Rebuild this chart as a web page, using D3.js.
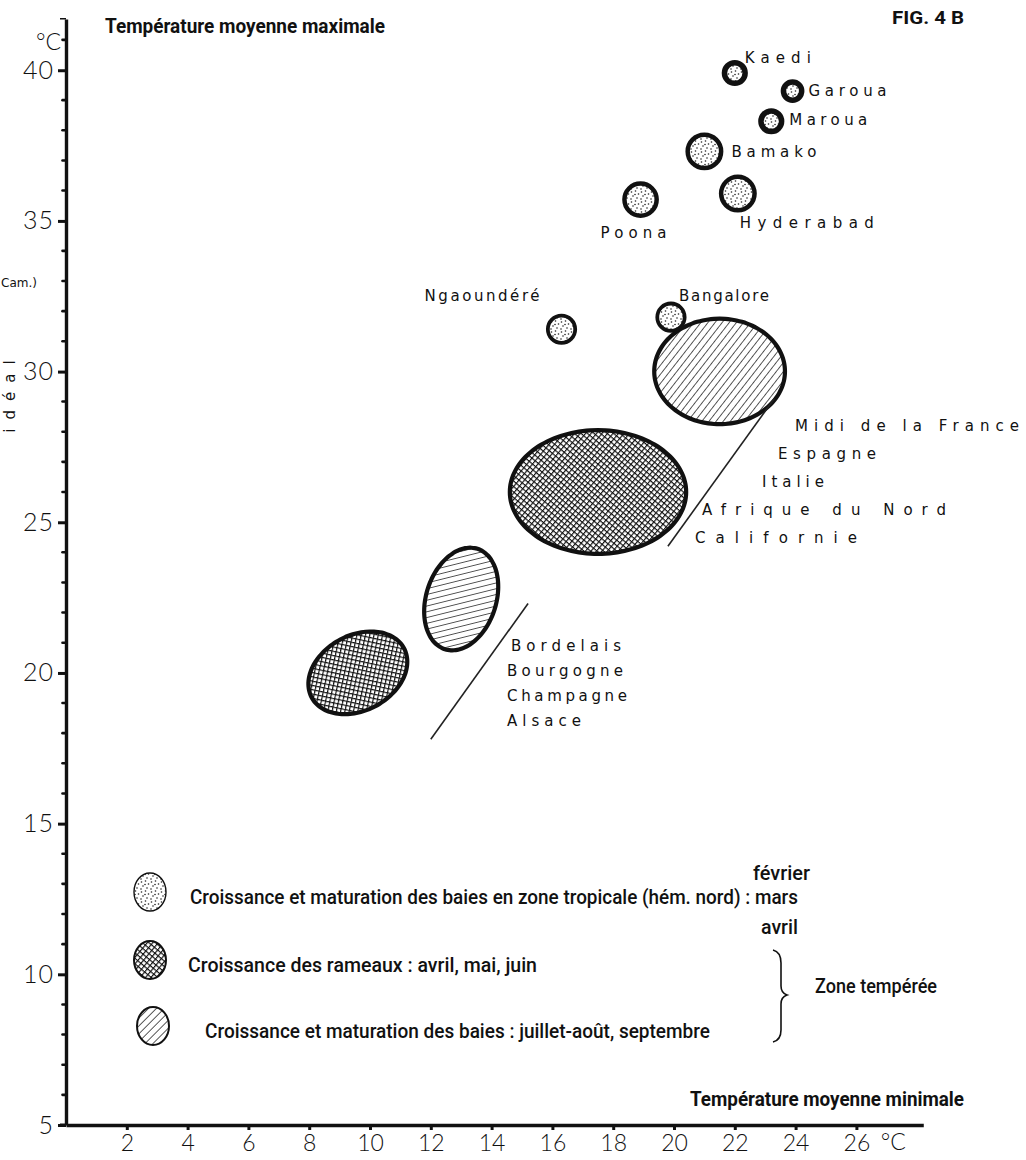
<!DOCTYPE html>
<html>
<head>
<meta charset="utf-8">
<script src="https://cdn.jsdelivr.net/npm/d3@7/dist/d3.min.js"></script>
<style>
  body { margin: 0; background: #fff; }
  svg { display: block; }
  .cond { font-family: "Roboto", "Liberation Sans", sans-serif; fill: #111; }
  .hand { font-family: "DejaVu Sans", sans-serif; fill: #111; }
  .num { font-family: "Lato", "Open Sans", sans-serif; font-weight: 300; fill: #111; }
</style>
</head>
<body>
<div id="chart"></div>
<script>
// ---- data (°C) ----
const xTicks = [2, 4, 6, 8, 10, 12, 14, 16, 18, 20, 22, 24, 26]
const yTicks = [5, 10, 15, 20, 25, 30, 35, 40]

// tropical stations: mean min / mean max, and the half-spread drawn as circle radius
const stations = ["Kaedi", "Garoua", "Maroua", "Bamako", "Hyderabad", "Poona", "Ngaoundéré", "Bangalore"]
const stationTmin = [22.0, 23.9, 23.2, 21.0, 22.1, 18.9, 16.3, 19.9]
const stationTmax = [39.9, 39.3, 38.3, 37.3, 35.9, 35.7, 31.4, 31.8]
const stationSpread = [0.34, 0.30, 0.34, 0.55, 0.55, 0.53, 0.45, 0.45]

// temperate zones: centre and half-ranges of the ellipses
const zones = ["midi_baies", "midi_rameaux", "nord_baies", "nord_rameaux"]
const zoneKind = ["baies", "rameaux", "baies", "rameaux"]
const zoneTmin = [21.5, 17.5, 13.0, 9.6]
const zoneTmax = [30.0, 26.0, 22.45, 20.0]
const zoneHalfMin = [2.15, 2.9, 1.15, 1.72]
const zoneHalfMax = [1.75, 2.05, 1.75, 1.25]

const regionsMidi = ["Midi de la France", "Espagne", "Italie", "Afrique du Nord", "Californie"]
const regionsNord = ["Bordelais", "Bourgogne", "Champagne", "Alsace"]
const midiLine = [[23.3, 29.1], [19.8, 24.2]]
const nordLine = [[15.2, 22.3], [12.0, 17.8]]

const legendTexts = [
    "Croissance et maturation des baies en zone tropicale (hém. nord) : mars",
    "Croissance des rameaux :  avril, mai, juin",
    "Croissance et maturation des baies :  juillet-août, septembre"
]

// ---- layout ----
const W = 1026, H = 1160
const svg = d3.select("#chart").append("svg")
    .attr("width", W).attr("height", H)

const x = d3.scaleLinear().domain([0, 28.2]).range([66, 66 + 28.2 * 30.4])
const y = d3.scaleLinear().domain([5, 40]).range([1125, 70])

const defs = svg.append("defs")

// stipple
let st = defs.append("pattern").attr("id", "stipple")
    .attr("width", 10).attr("height", 10).attr("patternUnits", "userSpaceOnUse")
st.append("rect").attr("width", 10).attr("height", 10).attr("fill", "#fff")
;[[1.5, 2], [5.5, 1], [8.5, 4], [3, 6], [7, 8], [1, 9], [5, 4.5]].forEach(p => {
    st.append("circle").attr("cx", p[0]).attr("cy", p[1]).attr("r", 0.8).attr("fill", "#222")
})

// cross hatch
let ch = defs.append("pattern").attr("id", "cross")
    .attr("width", 4.2).attr("height", 4.2).attr("patternUnits", "userSpaceOnUse")
    .attr("patternTransform", "rotate(40)")
ch.append("rect").attr("width", 4.2).attr("height", 4.2).attr("fill", "#fff")
ch.append("line").attr("x1", 0).attr("y1", 0).attr("x2", 4.2).attr("y2", 0).attr("stroke", "#111").attr("stroke-width", 2.3)
ch.append("line").attr("x1", 0).attr("y1", 0).attr("x2", 0).attr("y2", 4.2).attr("stroke", "#111").attr("stroke-width", 2.3)

// diagonal hatch, one angle per figure
function hatch(id, angle) {
    let p = defs.append("pattern").attr("id", id)
        .attr("width", 5.6).attr("height", 5.6).attr("patternUnits", "userSpaceOnUse")
        .attr("patternTransform", "rotate(" + angle + ")")
    p.append("rect").attr("width", 5.6).attr("height", 5.6).attr("fill", "#fff")
    p.append("line").attr("x1", 0).attr("y1", 0).attr("x2", 0).attr("y2", 5.6)
        .attr("stroke", "#111").attr("stroke-width", 1.4)
}
hatch("hatch_midi", 38)
hatch("hatch_nord", 58)
hatch("hatch_leg", 45)

// ---- axes ----
const yAxis = svg.append("g")
    .attr("transform", "translate(" + x(0) + ",0)")
    .call(d3.axisLeft(y.copy().domain([5, 41.7]).range([1125, 19]))
        .tickValues(yTicks)
        .tickSizeInner(8)
        .tickSizeOuter(0)
        .tickPadding(4)
        .tickFormat(d => d))
yAxis.select(".domain").attr("stroke", "#111").attr("stroke-width", 3.4)
yAxis.selectAll(".tick line").attr("stroke", "#111").attr("stroke-width", 3)
yAxis.selectAll(".tick text").attr("class", "num").attr("font-size", 25)
    .attr("letter-spacing", 1)
    .attr("font-family", null).attr("fill", "#111")

// minor dots every degree
svg.append("g").selectAll("line")
    .data(d3.range(6, 42).filter(v => v % 5 !== 0))
    .enter().append("line")
    .attr("x1", x(0) - 3.5).attr("x2", x(0))
    .attr("y1", d => y(d)).attr("y2", d => y(d))
    .attr("stroke", "#111").attr("stroke-width", 2.6).attr("stroke-linecap", "round")
// small cap at the top of the axis
svg.append("line").attr("x1", x(0) - 6).attr("x2", x(0)).attr("y1", y(41.7)).attr("y2", y(41.7))
    .attr("stroke", "#111").attr("stroke-width", 1.5)

const xAxis = svg.append("g")
    .attr("transform", "translate(0," + y(5) + ")")
    .call(d3.axisBottom(x)
        .tickValues(xTicks)
        .tickSizeInner(5)
        .tickSizeOuter(0)
        .tickPadding(5)
        .tickFormat(d => d))
xAxis.select(".domain").attr("stroke", "#111").attr("stroke-width", 3.4)
xAxis.selectAll(".tick line").attr("stroke", "#111").attr("stroke-width", 3)
xAxis.selectAll(".tick text").attr("class", "num").attr("font-size", 23)
    .attr("font-family", null).attr("fill", "#111")
svg.append("line").attr("x1", x(0) - 6).attr("x2", x(0)).attr("y1", y(5)).attr("y2", y(5))
    .attr("stroke", "#111").attr("stroke-width", 3)

svg.append("text").attr("class", "num").attr("font-size", 23)
    .attr("x", 36).attr("y", 50).text("°C")
svg.append("text").attr("class", "num").attr("font-size", 23)
    .attr("x", x(26.8)).attr("y", y(5) + 25).text("°C")

// titles (condensed lettering: fitted to the widths in the figure)
function condText(str, px, py, size, width, bold) {
    return svg.append("text").attr("class", "cond")
        .attr("font-size", size).attr("font-weight", bold ? "bold" : 500)
        .attr("x", px).attr("y", py)
        .attr("textLength", width).attr("lengthAdjust", "spacingAndGlyphs")
        .text(str)
}
condText("Température moyenne maximale", 105, 33, 21, 280, true)
condText("Température moyenne minimale", 690, 1106, 21, 274, true)
condText("FIG. 4 B", 892, 24, 18, 72, true)

// left margin notes
svg.append("text").attr("class", "hand").attr("font-size", 12)
    .attr("x", 1).attr("y", 287).text("Cam.)")
svg.append("text").attr("class", "hand").attr("font-size", 15).attr("letter-spacing", 9)
    .attr("text-anchor", "middle")
    .attr("transform", "translate(15,392) rotate(-90)").text("idéal")

// ---- temperate zones ----
function ellipsePath(i) {
    const cx = x(zoneTmin[i]), cy = y(zoneTmax[i])
    const rx = x(zoneTmin[i] + zoneHalfMin[i]) - cx
    const ry = cy - y(zoneTmax[i] + zoneHalfMax[i])
    const pts = d3.range(0, 72).map(k => {
        const t = k / 72 * 2 * Math.PI
        return [cx + rx * Math.cos(t), cy + ry * Math.sin(t)]
    })
    return d3.line().curve(d3.curveCardinalClosed)(pts)
}
const zoneTilt = {midi_baies: 0, midi_rameaux: 0, nord_baies: 18, nord_rameaux: -28}
const zoneFill = {midi_baies: "url(#hatch_midi)", midi_rameaux: "url(#cross)",
                  nord_baies: "url(#hatch_nord)", nord_rameaux: "url(#cross)"}

svg.append("g").selectAll("path")
    .data(d3.range(zones.length))
    .enter().append("path")
    .attr("d", i => ellipsePath(i))
    .attr("transform", i => "rotate(" + zoneTilt[zones[i]] + "," + x(zoneTmin[i]) + "," + y(zoneTmax[i]) + ")")
    .attr("fill", i => zoneFill[zones[i]])
    .attr("stroke", "#111")
    .attr("stroke-width", 4.2)

// bracket lines
;[midiLine, nordLine].forEach(l => {
    svg.append("path")
        .attr("d", d3.line().x(d => x(d[0])).y(d => y(d[1]))(l))
        .attr("stroke", "#222").attr("stroke-width", 1.6).attr("fill", "none")
})

// region names
const midiX = [795, 778, 762, 702, 695]
const midiW = [224, 98, 62, 244, 162]
svg.append("g").selectAll("text")
    .data(regionsMidi).enter().append("text")
    .attr("class", "hand").attr("font-size", 15)
    .attr("x", (d, i) => midiX[i])
    .attr("y", (d, i) => 431 + i * 28)
    .attr("textLength", (d, i) => midiW[i]).attr("lengthAdjust", "spacing")
    .text(d => d)

const nordW = [110, 116, 120, 74]
svg.append("g").selectAll("text")
    .data(regionsNord).enter().append("text")
    .attr("class", "hand").attr("font-size", 15)
    .attr("x", (d, i) => i === 0 ? 511 : 507)
    .attr("y", (d, i) => 651 + i * 25)
    .attr("textLength", (d, i) => nordW[i]).attr("lengthAdjust", "spacing")
    .text(d => d)

// ---- tropical stations ----
const stationStroke = [5.5, 5.5, 5.5, 4.5, 4.5, 4.5, 3.8, 3.8]
svg.append("g").selectAll("circle")
    .data(d3.range(stations.length))
    .enter().append("circle")
    .attr("cx", i => x(stationTmin[i]))
    .attr("cy", i => y(stationTmax[i]))
    .attr("r", i => x(stationTmin[i] + stationSpread[i]) - x(stationTmin[i]))
    .attr("fill", "url(#stipple)")
    .attr("stroke", "#111")
    .attr("stroke-width", i => stationStroke[i])

// label placement: [dx, dy, width]
const stationLabel = {
    "Kaedi": [10, -10, 66], "Garoua": [16, 5, 78], "Maroua": [18, 4, 78],
    "Bamako": [27, 6, 85], "Hyderabad": [2, 34, 134], "Poona": [-40, 38, 66],
    "Ngaoundéré": [-137, -28, 115], "Bangalore": [8, -16, 90]
}
svg.append("g").selectAll("text")
    .data(d3.range(stations.length))
    .enter().append("text")
    .attr("class", "hand").attr("font-size", 15)
    .attr("x", i => x(stationTmin[i]) + stationLabel[stations[i]][0])
    .attr("y", i => y(stationTmax[i]) + stationLabel[stations[i]][1])
    .attr("textLength", i => stationLabel[stations[i]][2]).attr("lengthAdjust", "spacing")
    .text(i => stations[i])

// ---- legend ----
const legFill = ["url(#stipple)", "url(#cross)", "url(#hatch_leg)"]
const legY = [892, 960, 1026]
const legTextX = [190, 188, 205]
const legTextW = [608, 349, 505]
const leg = svg.append("g")
leg.selectAll("ellipse").data(legendTexts).enter().append("ellipse")
    .attr("cx", (d, i) => i === 2 ? 153 : 150)
    .attr("cy", (d, i) => legY[i])
    .attr("rx", 16).attr("ry", 19)
    .attr("fill", (d, i) => legFill[i])
    .attr("stroke", "#111")
    .attr("stroke-width", (d, i) => i === 0 ? 1.4 : 2)
legendTexts.forEach((t, i) => condText(t, legTextX[i], legY[i] + 12, 20, legTextW[i], false))
condText("février", 753, 880, 20, 57, false)
condText("avril", 761, 934, 20, 37, false)
condText("Zone tempérée", 815, 993, 20, 122, false)
leg.append("path")
    .attr("d", "M773,950 Q781,952 781,963 L781,986 Q781,993 787,995 Q781,997 781,1004 L781,1030 Q781,1040 773,1042")
    .attr("fill", "none").attr("stroke", "#111").attr("stroke-width", 1.6)
</script>
</body>
</html>
